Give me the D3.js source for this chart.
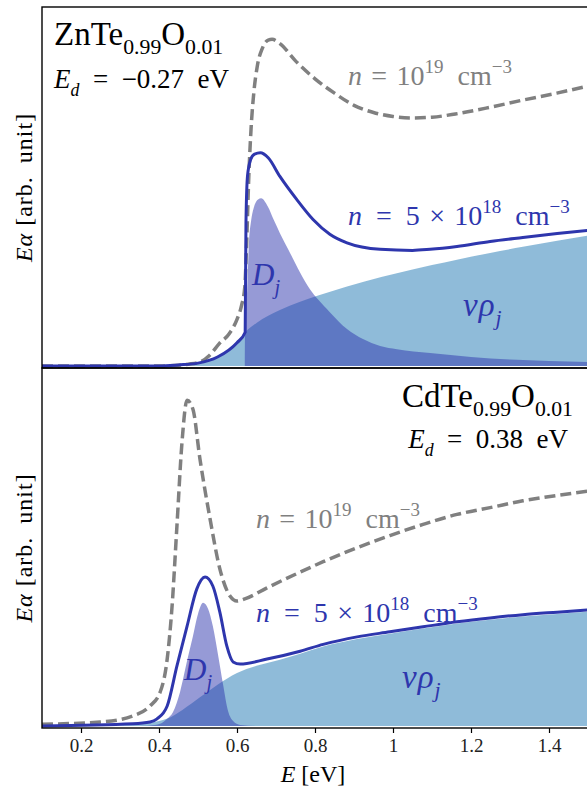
<!DOCTYPE html>
<html>
<head>
<meta charset="utf-8">
<script src="https://cdn.jsdelivr.net/npm/d3@7"></script>
<style>
  body { margin: 0; background: #fff; }
  text { font-family: "Liberation Serif", "DejaVu Serif", serif; white-space: pre; }
</style>
</head>
<body>
<svg id="chart"></svg>
<script>
// Energy axis ticks
const xTicks = [0.2, 0.4, 0.6, 0.8, 1.0, 1.2, 1.4];

// ZnTe0.99O0.01 panel, [E (eV), E*alpha (arb.)]
const znDashed = [[0.10, 0], [0.40, 0], [0.45, 0.2], [0.475, 0.5], [0.505, 1.1], [0.53, 3], [0.555, 6.3],
  [0.58, 9], [0.60, 13], [0.612, 17], [0.62, 22], [0.625, 35], [0.63, 52], [0.636, 66], [0.643, 76],
  [0.652, 83.5], [0.665, 88.5], [0.68, 90.8], [0.69, 91], [0.71, 89.8], [0.75, 85], [0.80, 80], [0.85, 76],
  [0.90, 72.6], [0.95, 70.6], [1.0, 69.5], [1.05, 69.1], [1.1, 69.3], [1.16, 70.2], [1.25, 72.1], [1.33, 74],
  [1.42, 76], [1.5, 78]];
const znSolid = [[0.10, 0], [0.40, 0], [0.45, 0.3], [0.50, 0.8], [0.55, 2.5], [0.60, 6.5], [0.621, 9.4],
  [0.623, 40], [0.627, 53], [0.635, 57.5], [0.645, 59], [0.66, 59.4], [0.68, 58], [0.71, 52.8], [0.753, 46.4],
  [0.795, 40.8], [0.838, 36.7], [0.882, 34.3], [0.967, 32.5], [1.05, 32.2], [1.095, 32.5], [1.164, 33.3],
  [1.249, 34.7], [1.333, 35.8], [1.421, 36.9], [1.5, 37.8]];
const znVrho = [[0.10, 0], [0.40, 0], [0.45, 0.3], [0.50, 0.8], [0.55, 2.5], [0.60, 6.5], [0.621, 9.4],
  [0.65, 12], [0.68, 14], [0.71, 15.6], [0.76, 17.8], [0.81, 19.7], [0.88, 22.1], [0.97, 24.8], [1.05, 26.9],
  [1.1, 28.1], [1.164, 29.6], [1.249, 31.5], [1.333, 33.2], [1.421, 34.9], [1.5, 36.3]];
const znD = [[0.62, 0], [0.6205, 9], [0.626, 21], [0.631, 35], [0.636, 40.3], [0.644, 44.4], [0.654, 46.4],
  [0.662, 46.7], [0.679, 44.4], [0.695, 40.5], [0.71, 37], [0.736, 31.5], [0.762, 26], [0.787, 21.4],
  [0.808, 18.5], [0.838, 15], [0.882, 10.3], [0.923, 7.5], [0.967, 5.6], [1.01, 4.7], [1.095, 3.6],
  [1.2, 2.5], [1.3, 1.8], [1.4, 1.4], [1.5, 1.1]];

// CdTe0.99O0.01 panel
const cdDashed = [[0.10, 0.5], [0.249, 1.1], [0.333, 2.8], [0.377, 5.6], [0.403, 9.5], [0.421, 18.7],
  [0.433, 32.7], [0.446, 55.9], [0.459, 79.3], [0.472, 91], [0.487, 88.5], [0.505, 74.6], [0.531, 57.8],
  [0.556, 43.9], [0.582, 36.3], [0.60, 34.9], [0.62, 35.5], [0.677, 38.6], [0.762, 43], [0.821, 45.9],
  [0.908, 49.8], [0.992, 53.2], [1.077, 56.3], [1.164, 59.1], [1.249, 61], [1.333, 62.9], [1.421, 64.4],
  [1.5, 65.6]];
const cdSolid = [[0.10, 0], [0.333, 0.6], [0.377, 1.1], [0.395, 2], [0.421, 5.6], [0.446, 16.8], [0.472, 27.9],
  [0.497, 38.3], [0.518, 41.6], [0.538, 39.1], [0.556, 31.8], [0.574, 22.3], [0.59, 17.9], [0.608, 17.3],
  [0.677, 18.7], [0.762, 20.9], [0.821, 22.8], [0.908, 24.9], [0.992, 26.3], [1.077, 27.7], [1.164, 29.1],
  [1.249, 30.2], [1.333, 31.1], [1.421, 31.8], [1.5, 32.4]];
const cdVrho = [[0.10, 0], [0.25, 0], [0.33, 0.4], [0.38, 1], [0.42, 2], [0.46, 4.5], [0.505, 8], [0.55, 11.5],
  [0.60, 14.8], [0.65, 16.8], [0.71, 18.5], [0.762, 20.2], [0.821, 22.2], [0.908, 24.3], [0.992, 25.8],
  [1.077, 27.2], [1.164, 28.6], [1.249, 29.7], [1.333, 30.6], [1.421, 31.3], [1.5, 31.9]];
const cdD = [[0.35, 0], [0.39, 0.3], [0.403, 0.6], [0.421, 2], [0.436, 3.9], [0.454, 9.5], [0.472, 18.2],
  [0.487, 25.1], [0.50, 31.3], [0.513, 34.4], [0.526, 32.7], [0.538, 27.9], [0.551, 20.1], [0.564, 11.7],
  [0.577, 4.2], [0.59, 1.4], [0.608, 0.3], [0.65, 0], [1.5, 0]];

const width = 587;
const height = 793;
const lineBlue = "#2e36ad";
const dashGray = "#808080";
const en = "\u2002";
const th = "\u2004";

const svg = d3.select("#chart").attr("width", width).attr("height", height);

const x = d3.scaleLinear().domain([0.1, 1.5]).range([42, 588]);
const yTop = d3.scaleLinear().domain([0, 100]).range([366, 7]);
const yBot = d3.scaleLinear().domain([0, 100]).range([726, 368]);

// text with sub/superscripts, parts: {t, i (italic), s: "sub"|"sup"}
function mathText(g, px, py, parts, size, color, anchor) {
  const t = g.append("text").attr("x", px).attr("y", py)
    .attr("font-size", size).attr("fill", color).attr("text-anchor", anchor || "start");
  let cur = 0;
  parts.forEach((p) => {
    let off = 0, fs = size;
    if (p.s === "sub") { off = 0.28 * size; fs = 0.66 * size; }
    if (p.s === "sup") { off = -0.42 * size; fs = 0.68 * size; }
    t.append("tspan").attr("dy", off - cur).attr("font-size", fs)
      .attr("font-style", p.i ? "italic" : "normal").text(p.t);
    cur = off;
  });
  return t;
}

function drawPanel(y, top, bottom, dashed, solid, vrho, dj, id) {
  const g = svg.append("g");
  g.append("clipPath").attr("id", id).append("rect")
    .attr("x", 42).attr("y", top).attr("width", 546).attr("height", bottom - top);
  const plot = g.append("g").attr("clip-path", `url(#${id})`);

  const area = d3.area().x((d) => x(d[0])).y0(y(0)).y1((d) => y(d[1])).curve(d3.curveMonotoneX);
  const line = d3.line().x((d) => x(d[0])).y((d) => y(d[1])).curve(d3.curveMonotoneX);

  plot.append("path").datum(vrho).attr("d", area).attr("fill", "#1f77b4").attr("fill-opacity", 0.5);
  plot.append("path").datum(dj).attr("d", area).attr("fill", lineBlue).attr("fill-opacity", 0.5);
  plot.append("path").datum(dashed).attr("d", line).attr("fill", "none")
    .attr("stroke", dashGray).attr("stroke-width", 3.5).attr("stroke-dasharray", "11,5");
  plot.append("path").datum(solid).attr("d", line).attr("fill", "none")
    .attr("stroke", lineBlue).attr("stroke-width", 3);

  g.append("rect").attr("x", 42).attr("y", top).attr("width", 560).attr("height", bottom - top)
    .attr("fill", "none").attr("stroke", "#000").attr("stroke-width", 1.4);

  // y label
  const cy = (top + bottom) / 2;
  const lab = g.append("text").attr("transform", `translate(32,${cy}) rotate(-90)`)
    .attr("text-anchor", "middle").attr("font-size", 24).attr("letter-spacing", 1).attr("fill", "#000");
  lab.append("tspan").attr("font-style", "italic").text("Eα");
  lab.append("tspan").text(" [arb." + en + "unit]");
  return g;
}

const gTop = drawPanel(yTop, 7, 368, znDashed, znSolid, znVrho, znD, "clipTop");
const gBot = drawPanel(yBot, 368, 728, cdDashed, cdSolid, cdVrho, cdD, "clipBot");

// x axis on the lower panel
const xAxis = d3.axisBottom(x).tickValues(xTicks).tickSize(5).tickPadding(6)
  .tickFormat((d) => (d === 1 ? "1" : d3.format(".1f")(d)));
const ax = svg.append("g").attr("transform", "translate(0,728)").call(xAxis);
ax.select(".domain").remove();
ax.selectAll("line").attr("stroke", "#000").attr("stroke-width", 1.2);
ax.selectAll("text").attr("font-family", "Liberation Serif").attr("font-size", 19).attr("fill", "#222");

const xl = svg.append("text").attr("x", 313).attr("y", 782).attr("text-anchor", "middle")
  .attr("font-size", 24).attr("fill", "#000");
xl.append("tspan").attr("font-style", "italic").text("E");
xl.append("tspan").text(" [eV]");

// annotations, top panel
mathText(gTop, 54, 45, [{ t: "ZnTe" }, { t: "0.99", s: "sub" }, { t: "O" }, { t: "0.01", s: "sub" }], 33, "#000");
mathText(gTop, 54, 88, [{ t: "E", i: true }, { t: "d", i: true, s: "sub" }, { t: en + "=" + en + "−0.27" + en + "eV" }], 27, "#000");
mathText(gTop, 348, 85, [{ t: "n", i: true }, { t: th + "=" + th + "10" }, { t: "19", s: "sup" }, { t: en + "cm" }, { t: "−3", s: "sup" }], 28, dashGray);
mathText(gTop, 348, 225, [{ t: "n", i: true }, { t: en + "=" + en + "5" + th + "×" + th + "10" }, { t: "18", s: "sup" }, { t: en + "cm" }, { t: "−3", s: "sup" }], 28, lineBlue);
mathText(gTop, 252, 285, [{ t: "D", i: true }, { t: "j", i: true, s: "sub" }], 31, lineBlue);
mathText(gTop, 463, 316, [{ t: "vρ", i: true }, { t: "j", i: true, s: "sub" }], 33, lineBlue).attr("letter-spacing", 1);

// annotations, bottom panel
mathText(gBot, 573, 407, [{ t: "CdTe" }, { t: "0.99", s: "sub" }, { t: "O" }, { t: "0.01", s: "sub" }], 33, "#000", "end");
mathText(gBot, 568, 448, [{ t: "E", i: true }, { t: "d", i: true, s: "sub" }, { t: en + "=" + en + "0.38" + en + "eV" }], 27, "#000", "end");
mathText(gBot, 256, 528, [{ t: "n", i: true }, { t: th + "=" + th + "10" }, { t: "19", s: "sup" }, { t: en + "cm" }, { t: "−3", s: "sup" }], 28, dashGray);
mathText(gBot, 256, 622, [{ t: "n", i: true }, { t: en + "=" + en + "5" + th + "×" + th + "10" }, { t: "18", s: "sup" }, { t: en + "cm" }, { t: "−3", s: "sup" }], 28, lineBlue);
mathText(gBot, 184, 680, [{ t: "D", i: true }, { t: "j", i: true, s: "sub" }], 31, lineBlue);
mathText(gBot, 402, 688, [{ t: "vρ", i: true }, { t: "j", i: true, s: "sub" }], 33, lineBlue).attr("letter-spacing", 1);
</script>
</body>
</html>
